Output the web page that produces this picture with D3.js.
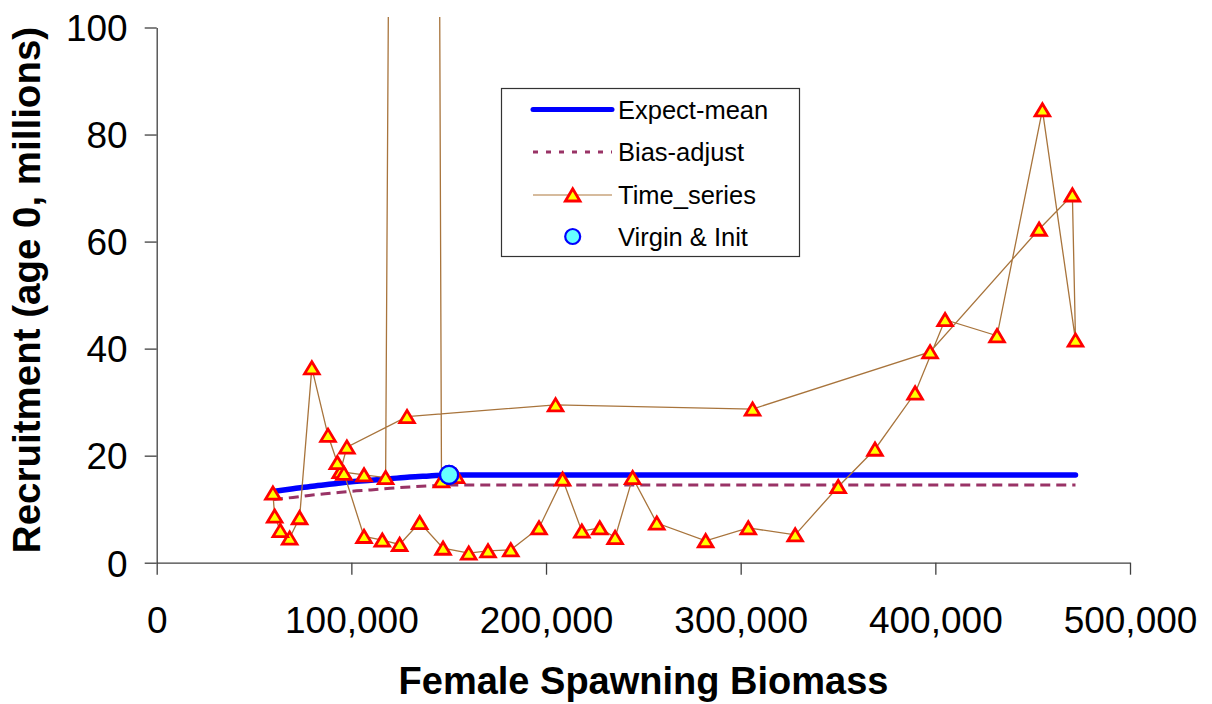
<!DOCTYPE html>
<html>
<head>
<meta charset="utf-8">
<script src="https://cdn.jsdelivr.net/npm/d3@7"></script>
<style>
  html, body { margin: 0; padding: 0; background: #ffffff; }
  svg { display: block; font-family: "Liberation Sans", Arial, sans-serif; }
</style>
</head>
<body>
<svg id="chart" width="1212" height="704"></svg>
<script>
// ---- Data ----
// Time series, chronological order: female spawning biomass and recruitment (age 0, millions)
const tsSSB = [154000, 146300, 135000, 117600, 106500, 94300, 97700, 128600, 204900, 306100,
               397300, 453300, 470400, 472000, 455000, 431700, 405000, 389600, 369000, 350100,
               328000, 303900, 282000, 256900, 244500, 235500, 227600, 218400, 208500, 196400,
               181900, 170200, 160300, 147100, 135100, 124800, 115900, 106500, 96200, 92800,
               88000, 79700, 73400, 68300, 63500, 60600, 59700];
const tsRec = [16.1, 15.3, 1100, 15.9, 16.4, 17.0, 21.6, 27.3, 29.5, 28.7,
               39.4, 62.3, 68.7, 41.6, 84.6, 42.4, 45.4, 31.7, 21.2, 14.2,
               5.2, 6.5, 4.1, 7.4, 15.9, 4.7, 6.5, 5.9, 15.6, 6.5,
               2.4, 2.2, 1.8, 2.7, 7.5, 3.4, 4.2, 4.9, 16.7, 18.7,
               23.8, 36.4, 8.4, 4.6, 6.0, 8.7, 13.0];

// Stock-recruit curves
const curveSSB  = [59700, 70000, 80000, 90000, 100000, 110000, 120000, 130000, 140000, 150000, 472000];
const expectMean = [13.3, 13.8, 14.3, 14.7, 15.1, 15.4, 15.7, 16.0, 16.2, 16.4, 16.4];
const biasAdjust = [11.8, 12.2, 12.65, 13.0, 13.35, 13.6, 13.9, 14.15, 14.35, 14.5, 14.5];

// Virgin & Init point
const virginSSB = [150200, 150200];
const virginRec = [16.4, 16.4];

// Axes
const xTicks = [0, 100000, 200000, 300000, 400000, 500000];
const yTicks = [0, 20, 40, 60, 80, 100];
const xTitle = "Female Spawning Biomass";
const yTitle = "Recruitment (age 0, millions)";
const legendLabels = ["Expect-mean", "Bias-adjust", "Time_series", "Virgin & Init"];

// ---- Drawing ----
const svg = d3.select("#chart");
const x = d3.scaleLinear().domain([0, 500000]).range([156.7, 1130]);
const y = d3.scaleLinear().domain([0, 100]).range([562.7, 27.5]);

const FONT = '"Liberation Sans", Arial, sans-serif';
const AXIS_COL = "#404040";

svg.append("defs").append("clipPath").attr("id", "plotclip")
  .append("rect").attr("x", 150).attr("y", 17).attr("width", 1000).attr("height", 560);

// axes
const gx = svg.append("g").attr("transform", `translate(0,${y(0)})`)
  .call(d3.axisBottom(x).tickValues(xTicks).tickFormat(d3.format(",")).tickSize(12).tickSizeOuter(0).tickPadding(30));
const gy = svg.append("g").attr("transform", `translate(${x(0)},0)`)
  .call(d3.axisLeft(y).tickValues(yTicks).tickSize(12).tickSizeOuter(0).tickPadding(17));
[gx, gy].forEach(g => {
  g.select(".domain").attr("stroke", AXIS_COL).attr("stroke-width", 1.3);
  g.selectAll(".tick line").attr("stroke", AXIS_COL).attr("stroke-width", 1.3);
  g.selectAll(".tick text").attr("fill", "#000").style("font-family", FONT).style("font-size", "37px");
});
gx.selectAll(".tick text").attr("dy", "0.35em").attr("y", 57);
gy.selectAll(".tick text").attr("dy", "0.36em");

// axis titles
svg.append("text").attr("x", 643.5).attr("y", 694).attr("text-anchor", "middle")
  .style("font-family", FONT).style("font-size", "38px").style("font-weight", "bold").text(xTitle);
svg.append("text").attr("transform", `translate(40,${(27 + 553) / 2}) rotate(-90)`).attr("text-anchor", "middle")
  .style("font-family", FONT).style("font-size", "38.5px").style("font-weight", "bold").text(yTitle);

const plot = svg.append("g").attr("clip-path", "url(#plotclip)");

// Expect-mean
const curveLine = d3.line().x(d => x(d[0])).y(d => y(d[1])).curve(d3.curveMonotoneX);
plot.append("path").datum(curveSSB.map((s, i) => [s, expectMean[i]]))
  .attr("d", curveLine).attr("fill", "none").attr("stroke", "#0000FF").attr("stroke-width", 5.5)
  .attr("stroke-linecap", "round");
// Bias-adjust
plot.append("path").datum(curveSSB.map((s, i) => [s, biasAdjust[i]]))
  .attr("d", curveLine).attr("fill", "none").attr("stroke", "#993366").attr("stroke-width", 3)
  .attr("stroke-dasharray", "10,6");

// Time series
const tsData = tsSSB.map((s, i) => [s, tsRec[i]]);
plot.append("path").datum(tsData)
  .attr("d", d3.line().x(d => x(d[0])).y(d => y(d[1])))
  .attr("fill", "none").attr("stroke", "#A8743C").attr("stroke-width", 1.3);
const triPath = "M0,-6.8 L7.3,5.4 L-7.3,5.4 Z";
plot.selectAll(".tri").data(tsData.filter(d => d[1] <= 100)).join("path")
  .attr("class", "tri").attr("d", triPath)
  .attr("transform", d => `translate(${x(d[0])},${y(d[1]) + 0.6})`)
  .attr("fill", "#FFFF00").attr("stroke", "#FF0000").attr("stroke-width", 2.8);

// Virgin & Init
plot.selectAll(".virg").data(virginSSB.map((s, i) => [s, virginRec[i]])).join("circle")
  .attr("class", "virg").attr("cx", d => x(d[0])).attr("cy", d => y(d[1])).attr("r", 9)
  .attr("fill", "#66FFFF").attr("stroke", "#0000FF").attr("stroke-width", 2.2);

// Legend
const lg = svg.append("g");
lg.append("rect").attr("x", 501.5).attr("y", 88.5).attr("width", 298).attr("height", 168)
  .attr("fill", "#fff").attr("stroke", "#333").attr("stroke-width", 1.2);
const rowsY = [109.5, 152, 195, 236.5];
const lx0 = 533, lx1 = 612, lmid = 572.7, ltx = 618;
lg.append("line").attr("x1", lx0).attr("x2", lx1).attr("y1", rowsY[0]).attr("y2", rowsY[0])
  .attr("stroke", "#0000FF").attr("stroke-width", 5).attr("stroke-linecap", "round");
lg.append("line").attr("x1", lx0).attr("x2", lx1).attr("y1", rowsY[1]).attr("y2", rowsY[1])
  .attr("stroke", "#993366").attr("stroke-width", 3).attr("stroke-dasharray", "5,8");
lg.append("line").attr("x1", lx0).attr("x2", lx1).attr("y1", rowsY[2]).attr("y2", rowsY[2])
  .attr("stroke", "#C8A47C").attr("stroke-width", 1.5);
lg.append("path").attr("d", triPath).attr("transform", `translate(${lmid},${rowsY[2] + 0.6})`)
  .attr("fill", "#FFFF00").attr("stroke", "#FF0000").attr("stroke-width", 2.8);
lg.append("circle").attr("cx", lmid).attr("cy", rowsY[3]).attr("r", 7.5)
  .attr("fill", "#66FFFF").attr("stroke", "#0000FF").attr("stroke-width", 2.2);
lg.selectAll(".lt").data(legendLabels).join("text").attr("class", "lt")
  .attr("x", ltx).attr("y", (d, i) => rowsY[i]).attr("dy", "0.36em")
  .style("font-family", FONT).style("font-size", "25.5px").attr("fill", "#000").text(d => d);
</script>
</body>
</html>
